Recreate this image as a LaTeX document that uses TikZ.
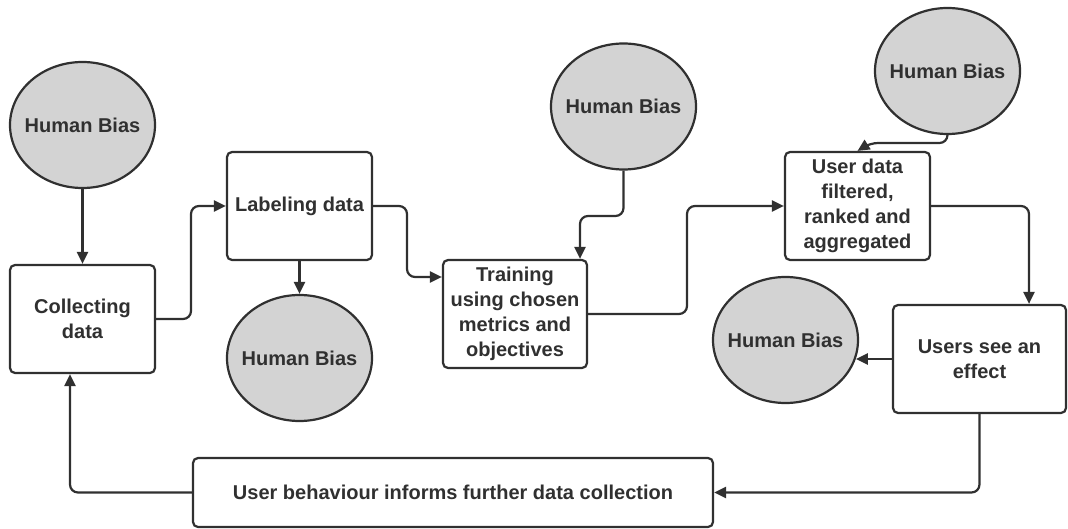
\documentclass[tikz,border=0pt]{standalone}
\usepackage{fontspec}
\setmainfont{Liberation Sans}
\usetikzlibrary{shapes.geometric,arrows.meta,calc}
\definecolor{ink}{HTML}{303030}
\definecolor{biasfill}{HTML}{D3D3D3}
\begin{document}
\begin{tikzpicture}[x=1pt,y=-1pt,
  every node/.style={font=\bfseries\fontsize{20}{25}\selectfont, text=ink, align=center, inner sep=0pt},
  stepbox/.style={draw=ink, line width=2.2pt, rounded corners=5pt, fill=white, minimum width=145pt, minimum height=108pt},
  bias/.style={ellipse, draw=ink, line width=2.2pt, fill=biasfill, inner xsep=-12pt, inner ysep=0pt, minimum width=145pt, minimum height=126pt},
  arr/.style={draw=ink, line width=2.2pt, rounded corners=8pt, -{Triangle[length=12pt,width=11pt]}}
]
\useasboundingbox (0,0) rectangle (1068,529);
% nodes
\node[bias] (hb1) at (82.5,125) {Human Bias};
\node[bias] (hb2) at (299.5,358) {Human Bias};
\node[bias] (hb3) at (623.5,106.5) {Human Bias};
\node[bias] (hb4) at (947.5,71) {Human Bias};
\node[bias] (hb5) at (785.5,340) {Human Bias};
\node[stepbox] (coll) at (82.5,319) {Collecting\\data};
\node[stepbox] (lab) at (299.5,206) {Labeling data};
\node[stepbox, minimum width=144pt] (train) at (515,314) {Training\\using chosen\\metrics and\\objectives};
\node[stepbox] (ud) at (857.5,206) {User data\\filtered,\\ranked and\\aggregated};
\node[stepbox, minimum width=173pt] (users) at (979.5,359) {Users see an\\effect};
\node[stepbox, minimum width=520pt, minimum height=69pt] (fb) at (453,492.5) {User behaviour informs further data collection};
% bend points
\coordinate (c1) at (191,319);
\coordinate (c2) at (407,206);
\coordinate (c2b) at (407,277);
\coordinate (c3) at (580,216);
\coordinate (c4) at (687,314);
\coordinate (c5) at (870,143);
\coordinate (c6) at (1029,206);
\coordinate (c7) at (70,492.5);
% connectors
\draw[arr] (hb1.south) -- (coll.north);
\draw[arr] (coll.east) -- (c1) |- (lab.west);
\draw[arr] (lab.south) -- (hb2.north);
\draw[arr] (lab.east) -- (c2) -- (c2b) -- (train.west |- c2b);
\draw[arr] (hb3.south) |- (c3) -- (c3 |- train.north);
\draw[arr] (train.east) -- (c4) |- (ud.west);
\draw[arr] (hb4.south) |- (c5) -- (ud.north);
\draw[arr] (ud.east) -- (c6) -- (c6 |- users.north);
\draw[arr] (users.west) -- (hb5.-15.4 |- users.west);
\draw[arr] (users.south) |- (fb.east);
\draw[arr] (fb.west) -- (c7) -- (c7 |- coll.south);
\end{tikzpicture}
\end{document}
